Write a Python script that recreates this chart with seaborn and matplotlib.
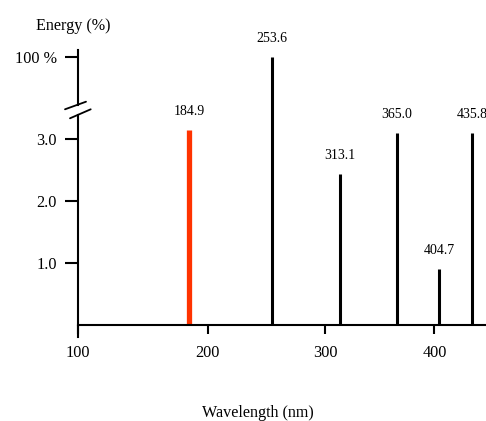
import numpy as np
import pandas as pd
import matplotlib
matplotlib.use("Agg")
import matplotlib.pyplot as plt
from matplotlib.lines import Line2D
import seaborn as sns

# ---- data ----
wavelengths = [184.9, 253.6, 313.1, 365.0, 404.7, 435.8]
energies = [3.15, 100.0, 2.44, 3.10, 0.90, 3.10]
line_colors = ["#FF3300", "black", "black", "black", "black", "black"]
line_widths = [3.8, 2.2, 2.2, 2.2, 2.2, 2.2]
x_ticks = [100, 200, 300, 400]
y_ticks_low = [1.0, 2.0, 3.0]
y_tick_labels_low = ["1.0", "2.0", "3.0"]
y_ticks_high = [100.0]
y_tick_labels_high = ["100 %"]

df = pd.DataFrame({"wavelength": wavelengths, "energy": energies,
                   "color": line_colors, "lw": line_widths})

sns.set_theme(style="white")
plt.rcParams["font.family"] = ["Liberation Serif", "DejaVu Serif"]

W, H = 486, 421
fig = plt.figure(figsize=(W / 100, H / 100), dpi=100)

left = 77.7 / W
ax_lo = fig.add_axes([left, 1 - 325 / H, 1 - left, (325 - 108.35) / H])
ax_hi = fig.add_axes([left, 1 - 108.35 / H, 1 - left, (108.35 - 50) / H], sharex=ax_lo)
ax_hi.patch.set_visible(False)

fwd = lambda x: np.sign(x) * np.abs(x) ** 0.8
inv = lambda x: np.sign(x) * np.abs(x) ** 1.25
ax_lo.set_xscale("function", functions=(fwd, inv))
ax_lo.set_xlim(100, 449)
ax_lo.set_ylim(0, 3.5)
ax_hi.set_ylim(89.5, 101.5)

for ax in (ax_lo, ax_hi):
    ax.vlines(df["wavelength"], 0, df["energy"], colors=df["color"],
              linewidths=df["lw"])
    for s in ("top", "right"):
        ax.spines[s].set_visible(False)
    ax.spines["left"].set_color("black")
    ax.spines["left"].set_linewidth(1.5)
ax_lo.set_facecolor("white")

ax_hi.spines["bottom"].set_visible(False)
ax_hi.tick_params(axis="x", bottom=False, labelbottom=False)
ax_lo.spines["bottom"].set_color("black")
ax_lo.spines["bottom"].set_linewidth(1.5)

ax_lo.spines["left"].set_bounds(-0.19, 3.39)
ax_hi.spines["left"].set_bounds(90.2, 101.5)

ax_lo.set_xticks(x_ticks)
ax_lo.set_xticklabels([str(t) for t in x_ticks])
ax_lo.xaxis.set_minor_locator(matplotlib.ticker.NullLocator())
ax_lo.tick_params(axis="x", bottom=True, direction="out", length=6.5, width=1.5,
                  pad=8, labelsize=11.7, colors="black")

ax_lo.set_yticks(y_ticks_low)
ax_lo.set_yticklabels(y_tick_labels_low)
ax_hi.set_yticks(y_ticks_high)
ax_hi.set_yticklabels(y_tick_labels_high)
for ax in (ax_lo, ax_hi):
    ax.tick_params(axis="y", left=True, direction="out", length=9.5, width=1.5,
                   pad=5.5, labelsize=11.7, colors="black")
    ax.set_xlabel("")
    ax.set_ylabel("")

# labels above lines
for w, e in zip(wavelengths, energies):
    ax = ax_hi if e > 50 else ax_lo
    ax.annotate(f"{w:.1f}", xy=(w, e), xytext=(0, 8.5), textcoords="offset points",
                ha="center", va="bottom", fontsize=10, color="black",
                annotation_clip=False, zorder=5)

# axis break marks
for (x0, y0, x1, y1) in [(65, 109.3, 86, 101.7), (70, 118.3, 90.7, 109.3)]:
    fig.add_artist(Line2D([x0 / W, x1 / W], [1 - y0 / H, 1 - y1 / H],
                          transform=fig.transFigure, color="black", lw=1.3))

fig.text(73.3 / W, 1 - 26 / H, "Energy (%)", ha="center", va="center",
         fontsize=11.6, color="black")
fig.text(257.5 / W, 1 - 405 / H, "Wavelength (nm)", ha="center", va="top",
         fontsize=11.6, color="black")

fig.savefig("out.png", dpi=100, facecolor="white")
